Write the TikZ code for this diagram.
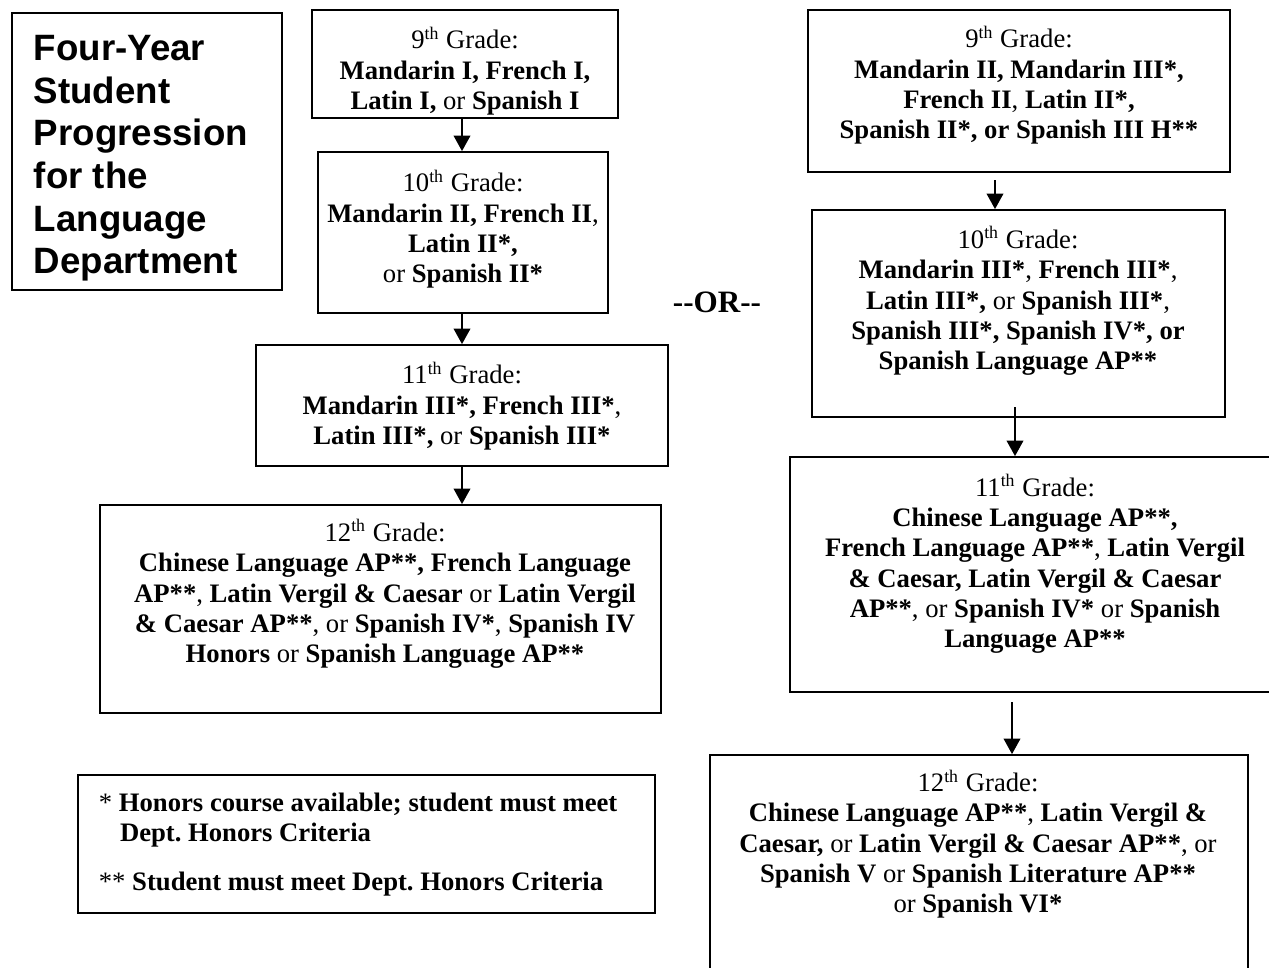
\documentclass[tikz,border=0pt]{standalone}
\usepackage{fontspec}
\setmainfont{Liberation Serif}
\newfontfamily\titlefont{Liberation Sans}
\usetikzlibrary{arrows.meta}
\newcommand{\pu}{0.45pt}
\newcommand{\gr}[1]{#1\textsuperscript{th} Grade:}
\frenchspacing

\begin{document}
\begin{tikzpicture}[x=\pu, y=-\pu, line width=0.8pt, >={Triangle[length=7pt,width=7.5pt]},
        box/.style 2 args = {draw, inner sep=0pt, minimum width=#1*\pu, minimum height=#2*\pu},
        txt/.style = {align=center, inner sep=0pt, font=\fontsize{12}{13.6}\selectfont}]
        \useasboundingbox (0,0) rectangle (1269,967);
        % title
        \node[box={270}{277}] (title) at (147,151.5) {};
        \node[align=left, inner sep=0pt, anchor=west, font=\titlefont\bfseries\fontsize{16.5}{19.2}\selectfont] (tt) at (33,158.5)
            {Four-Year\\Student\\Progression\\for the\\Language\\Department};
        % left column
        \node[box={306}{108}] (l9) at (465,64) {};
        \node[box={290}{161}] (l10) at (463,232.5) {};
        \node[box={412}{121}] (l11) at (462,405.5) {};
        \node[box={561}{208}] (l12) at (380.5,609) {};
        \node[txt] (t9) at (465,71) {\gr{9}\\ \textbf{Mandarin I, French I,}\\ \textbf{Latin I,} or \textbf{Spanish I}};
        \node[txt] (t10) at (463,229) {\gr{10}\\ \textbf{Mandarin II, French II},\\ \textbf{Latin II*,}\\ or \textbf{Spanish II*}};
        \node[txt] (t11) at (462,406) {\gr{11}\\ \textbf{Mandarin III*, French III*},\\ \textbf{Latin III*,} or \textbf{Spanish III*}};
        \node[txt] (t12) at (385,594) {\gr{12}\\ \textbf{Chinese Language AP**, French Language}\\ \textbf{AP**}, \textbf{Latin Vergil \& Caesar} or \textbf{Latin Vergil}\\ \textbf{\& Caesar AP**}, or \textbf{Spanish IV*}, \textbf{Spanish IV}\\ \textbf{Honors} or \textbf{Spanish Language AP**}};
        \draw[->] (l11 |- l9.south) -- (l11 |- l10.north);
        \draw[->] (l11 |- l10.south) -- (l11 |- l11.north);
        \draw[->] (l11.south) -- (l11 |- l12.north);
        % footnotes
        \node[box={577}{138}] (note) at (366.5,844) {};
        \node[align=left, inner sep=0pt, anchor=north west, font=\fontsize{12}{13.6}\selectfont] (tn) at (98,792)
            {* \textbf{Honors course available; student must meet}\\ \hspace*{9.5pt}\textbf{Dept. Honors Criteria}\\[8.5pt] ** \textbf{Student must meet Dept. Honors Criteria}};
        % or
        \node[inner sep=0pt, font=\fontsize{14}{16}\selectfont\bfseries] (or) at (717,302) {\mbox{-}\mbox{-}OR\mbox{-}\mbox{-}};
        % right column
        \node[box={422}{162}] (r9) at (1019,91) {};
        \node[box={413}{207}] (r10) at (1018.5,313.5) {};
        \node[box={500}{235}] (r11) at (1040,574.5) {};
        \node[box={538}{245}] (r12) at (979,877.5) {};
        \node[txt] (s9) at (1019,85) {\gr{9}\\ \textbf{Mandarin II, Mandarin III*,}\\ \textbf{French II}, \textbf{Latin II*,}\\ \textbf{Spanish II*, or Spanish III H**}};
        \node[txt] (s10) at (1018,301) {\gr{10}\\ \textbf{Mandarin III*}, \textbf{French III*},\\ \textbf{Latin III*,} or \textbf{Spanish III*},\\ \textbf{Spanish III*, Spanish IV*, or}\\ \textbf{Spanish Language AP**}};
        \node[txt] (s11) at (1035,564) {\gr{11}\\ \textbf{Chinese Language AP**,}\\ \textbf{French Language AP**}, \textbf{Latin Vergil}\\ \textbf{\& Caesar, Latin Vergil \& Caesar}\\ \textbf{AP**}, or \textbf{Spanish IV*} or \textbf{Spanish}\\ \textbf{Language AP**}};
        \node[txt] (s12) at (978,844) {\gr{12}\\ \textbf{Chinese Language AP**}, \textbf{Latin Vergil \&}\\ \textbf{Caesar,} or \textbf{Latin Vergil \& Caesar AP**}, or\\ \textbf{Spanish V} or \textbf{Spanish Literature AP**}\\ or \textbf{Spanish VI*}};
        \coordinate (c1) at (995,180);
        \coordinate (c2) at (1015,407);
        \coordinate (c3) at (1012,702);
        \draw[->] (c1) -- (c1 |- r10.north);
        \draw[->] (c2) -- (c2 |- r11.north);
        \draw[->] (c3) -- (c3 |- r12.north);
\end{tikzpicture}
\end{document}
